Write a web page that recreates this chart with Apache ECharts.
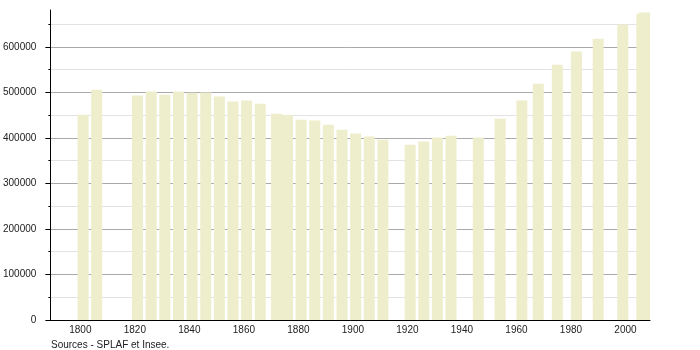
<!DOCTYPE html>
<html><head><meta charset="utf-8">
<script src="https://cdn.jsdelivr.net/npm/echarts@6/dist/echarts.min.js"></script>
<style>html,body{margin:0;padding:0;background:#fff}#c{width:700px;height:350px}</style>
</head><body><div id="c"></div>
<script>
// Census years and population values
const years = [1801,1806,1821,1826,1831,1836,1841,1846,1851,1856,1861,1866,1872,1876,1881,1886,1891,1896,1901,1906,1911,1921,1926,1931,1936,1946,1954,1962,1968,1975,1982,1990,1999,2006,2007];
const population = [451000,506000,493000,502000,495000,502000,499000,500000,491000,480000,482000,475000,453000,450500,440000,438000,429000,418000,409500,403000,396000,385000,392000,401000,405000,401000,442000,482000,519000,561000,590000,618000,649000,673000,675500];
// Tick labels
const xTickLabels = [1800,1820,1840,1860,1880,1900,1920,1940,1960,1980,2000];
const yMajorTicks = [0,100000,200000,300000,400000,500000,600000];
const yMinorTicks = [50000,150000,250000,350000,450000,550000,650000];
const sourceNote = 'Sources - SPLAF et Insee.';

const chart = echarts.init(document.getElementById('c'), null, {renderer: 'canvas'});
const font = "'Liberation Sans', Arial, sans-serif";
const plain = v => String(Math.round(v));
chart.setOption({
  animation: false,
  textStyle: {fontFamily: font},
  grid: {left: 50, right: 50, top: 10, bottom: 30, containLabel: false},
  xAxis: {
    type: 'value', min: 1789, max: 2009,
    axisLine: {show: true, onZero: false, lineStyle: {color: '#000', width: 1}},
    axisTick: {show: false, customValues: xTickLabels},
    axisLabel: {customValues: xTickLabels, formatter: plain, color: '#222', fontSize: 10, fontFamily: font, margin: 5},
    splitLine: {show: false}
  },
  yAxis: [{
    type: 'value', min: 0, max: 681000, position: 'left',
    axisLine: {show: true, lineStyle: {color: '#000', width: 1}},
    axisTick: {show: true, length: 5, customValues: yMajorTicks, lineStyle: {color: '#000'}},
    axisLabel: {customValues: yMajorTicks, formatter: plain, color: '#222', fontSize: 10, fontFamily: font, margin: 14},
    splitLine: {show: true, lineStyle: {color: '#aaaaaa', width: 1}}
  }, {
    type: 'value', min: 0, max: 681000, position: 'left', offset: 0,
    axisLine: {show: false},
    axisTick: {show: true, length: 2, customValues: yMinorTicks, lineStyle: {color: '#000'}},
    axisLabel: {show: false},
    splitLine: {show: true, lineStyle: {color: '#e2e2e2', width: 1}}
  }],
  series: [{
    type: 'bar',
    yAxisIndex: 0,
    barWidth: 11,
    itemStyle: {color: '#eeeecc'},
    data: years.map((y, i) => [y, population[i]])
  }],
  graphic: [{
    type: 'text', left: 51, top: 340,
    style: {text: sourceNote, fill: '#222', font: "10px 'Liberation Sans', Arial, sans-serif"}
  }]
});
</script></body></html>
